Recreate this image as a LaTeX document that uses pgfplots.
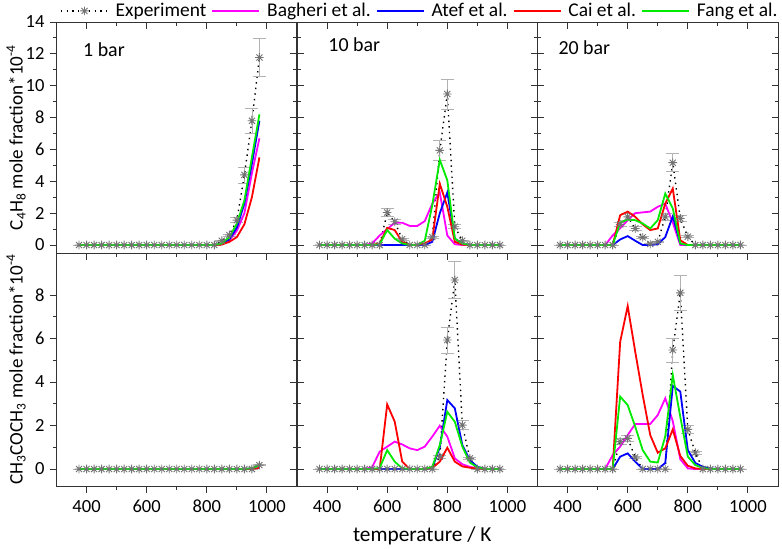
\documentclass[border=0pt]{standalone}
\usepackage{fontspec}
\setmainfont{Carlito}
\usepackage{pgfplots}
\usepackage{pgfplotstable}
\pgfplotsset{compat=1.18}

\pgfdeclareplotmark{ast8}{%
  \pgfpathmoveto{\pgfqpoint{-\pgfplotmarksize}{0pt}}\pgfpathlineto{\pgfqpoint{\pgfplotmarksize}{0pt}}%
  \pgfpathmoveto{\pgfqpoint{0pt}{-\pgfplotmarksize}}\pgfpathlineto{\pgfqpoint{0pt}{\pgfplotmarksize}}%
  \pgfpathmoveto{\pgfqpoint{-.707\pgfplotmarksize}{-.707\pgfplotmarksize}}\pgfpathlineto{\pgfqpoint{.707\pgfplotmarksize}{.707\pgfplotmarksize}}%
  \pgfpathmoveto{\pgfqpoint{-.707\pgfplotmarksize}{.707\pgfplotmarksize}}\pgfpathlineto{\pgfqpoint{.707\pgfplotmarksize}{-.707\pgfplotmarksize}}%
  \pgfusepathqstroke}

% columns: T  exp  err  Bagheri  Atef  Cai  Fang
\pgfplotstableread{
T exp err bag ate cai fan
375 0 0 0 0 0 0
400 0 0 0 0 0 0
425 0 0 0 0 0 0
450 0 0 0 0 0 0
475 0 0 0 0 0 0
500 0 0 0 0 0 0
525 0 0 0 0 0 0
550 0 0 0 0 0 0
575 0 0 0 0 0 0
600 0 0 0 0 0 0
625 0 0 0 0 0 0
650 0 0 0 0 0 0
675 0 0 0 0 0 0
700 0 0 0 0 0 0
725 0 0 0 0 0 0
750 0 0 0 0 0 0
775 0 0 0 0 0 0
800 0 0 0 0 0 0
825 0 0 0 0 0 0
850 0.27 0.03 0.05 0.08 0.03 0.10
875 0.63 0.06 0.30 0.35 0.20 0.50
900 1.56 0.16 0.90 1.10 0.50 1.35
925 4.40 0.50 2.00 2.60 1.30 2.80
950 7.80 0.80 4.50 5.10 3.00 5.50
975 11.77 1.20 6.70 7.80 5.50 8.20
}\tA

\pgfplotstableread{
T exp err bag ate cai fan
375 0 0 0 0 0 0
400 0 0 0 0 0 0
425 0 0 0 0 0 0
450 0 0 0 0 0 0
475 0 0 0 0 0 0
500 0 0 0 0 0 0
525 0 0 0 0 0 0
550 0 0 0.10 0 0 0
575 0 0 0.60 0 0.10 0.05
600 2.04 0.25 1.00 0 1.08 0.94
625 1.46 0.15 1.40 0 0.94 0.40
650 0.37 0.05 1.40 0 0.20 0.10
675 0 0 1.20 0 0 0
700 0 0 1.20 0 0.02 0
725 0 0 1.50 0 0.10 0.27
750 0.50 0.05 2.60 0.20 0.35 2.50
775 5.94 0.65 3.30 2.00 3.85 5.35
800 9.48 0.95 0.60 3.30 2.40 4.06
825 1.15 0.12 0.05 0.40 0.20 0.40
850 0.27 0.03 0 0.10 0.03 0.10
875 0 0 0 0 0 0
900 0 0 0 0 0 0
925 0 0 0 0 0 0
950 0 0 0 0 0 0
975 0 0 0 0 0 0
}\tB

\pgfplotstableread{
T exp err bag ate cai fan
375 0 0 0 0 0 0
400 0 0 0 0 0 0
425 0 0 0 0 0 0
450 0 0 0 0 0 0
475 0 0 0 0 0 0
500 0 0 0 0 0 0
525 0 0 0 0 0 0
550 0 0 0.60 0 0 0
575 1.30 0.15 1.05 0.35 1.87 1.40
600 1.77 0.20 1.56 0.56 2.10 1.60
625 1.04 0.12 2.00 0.27 1.77 1.56
650 0.48 0.05 2.05 0 1.30 1.35
675 0.06 0.02 2.10 0 0.94 1.04
700 0.20 0.02 2.40 0.05 1.04 1.56
725 1.77 0.20 2.60 0.50 2.60 3.23
750 5.17 0.57 1.40 1.80 3.54 2.30
775 1.67 0.18 0 0.10 0.30 0.10
800 0.52 0.06 0 0 0 0
825 0 0 0 0 0 0
850 0 0 0 0 0 0
875 0 0 0 0 0 0
900 0 0 0 0 0 0
925 0 0 0 0 0 0
950 0 0 0 0 0 0
975 0 0 0 0 0 0
}\tC

\pgfplotstableread{
T exp err bag ate cai fan
375 0 0 0 0 0 0
400 0 0 0 0 0 0
425 0 0 0 0 0 0
450 0 0 0 0 0 0
475 0 0 0 0 0 0
500 0 0 0 0 0 0
525 0 0 0 0 0 0
550 0 0 0 0 0 0
575 0 0 0 0 0 0
600 0 0 0 0 0 0
625 0 0 0 0 0 0
650 0 0 0 0 0 0
675 0 0 0 0 0 0
700 0 0 0 0 0 0
725 0 0 0 0 0 0
750 0 0 0 0 0 0
775 0 0 0 0 0 0
800 0 0 0 0 0 0
825 0 0 0 0 0 0
850 0 0 0 0 0 0
875 0 0 0 0 0 0
900 0 0 0 0 0 0
925 0 0 0 0 0 0
950 0 0 0.03 0.03 0.01 0.04
975 0.18 0.02 0.12 0.15 0.05 0.18
}\tD

\pgfplotstableread{
T exp err bag ate cai fan
375 0 0 0 0 0 0
400 0 0 0 0 0 0
425 0 0 0 0 0 0
450 0 0 0 0 0 0
475 0 0 0 0 0 0
500 0 0 0 0 0 0
525 0 0 0 0 0 0
550 0 0 0.08 0 0 0
575 0 0 0.80 0 0 0.05
600 0 0 1.03 0 2.97 0.87
625 0 0 1.26 0 2.18 0.34
650 0 0 1.13 0 0.34 0.03
675 0 0 0.95 0 0 0
700 0 0 0.87 0 0 0
725 0 0 1.03 0 0 0
750 0 0 1.49 0.05 0.05 0.10
775 0.57 0.06 1.99 1.00 0.34 1.10
800 5.93 0.60 1.49 3.17 0.98 2.63
825 8.69 0.86 0.49 2.79 0.34 2.17
850 2.02 0.20 0.22 1.10 0.12 1.03
875 0.49 0.05 0.10 0.41 0.06 0.30
900 0 0 0.03 0.10 0.02 0.08
925 0 0 0 0 0 0
950 0 0 0 0 0 0
975 0 0 0 0 0 0
}\tE

\pgfplotstableread{
T exp err bag ate cai fan
375 0 0 0 0 0 0
400 0 0 0 0 0 0
425 0 0 0 0 0 0
450 0 0 0 0 0 0
475 0 0 0 0 0 0
500 0 0 0 0 0 0
525 0 0 0 0 0 0
550 0 0 0.64 0 0 0
575 1.26 0.13 1.03 0.57 5.85 3.33
600 1.41 0.15 1.56 0.72 7.49 2.94
625 0.54 0.06 2.07 0.34 5.40 1.95
650 0 0 2.07 0 3.40 0.87
675 0 0 2.07 0 1.56 0.34
700 0 0 2.48 0 0.75 0.30
725 0 0 3.25 0.28 0.95 1.50
750 5.47 0.55 2.20 3.82 1.82 4.32
775 8.10 0.80 0.45 3.56 0.60 2.40
800 1.82 0.18 0.03 0.87 0.15 0.57
825 0.75 0.08 0 0.28 0.03 0.18
850 0 0 0 0.10 0 0.05
875 0 0 0 0.03 0 0
900 0 0 0 0 0 0
925 0 0 0 0 0 0
950 0 0 0 0 0 0
975 0 0 0 0 0 0
}\tF

\definecolor{cmag}{RGB}{255,0,255}
\definecolor{cblu}{RGB}{0,0,255}
\definecolor{cred}{RGB}{255,0,0}
\definecolor{cgrn}{RGB}{0,235,0}

\newcommand\fA{\fontsize{18.6}{22}\selectfont}% ticks
\newcommand\fB{\fontsize{19.5}{23}\selectfont}% legend
\newcommand\fC{\fontsize{20}{24}\selectfont}% panel labels
\newcommand\fD{\fontsize{19.2}{23}\selectfont}% y labels
\newcommand\fE{\fontsize{21.4}{25}\selectfont}% x label

\pgfplotsset{
  panel/.style={
    scale only axis, width=240.5bp,
    xmin=300, xmax=1100,
    xtick={400,600,800,1000}, minor x tick num=1,
    minor y tick num=1,
    major tick length=6.5bp, minor tick length=3.5bp,
    axis line style={line width=1bp, black!80},
    every tick/.style={black!80, line width=0.9bp},
    /pgf/number format/assume math mode=true,
    /pgf/number format/1000 sep={},
    tick label style={font=\fA},
    yticklabel style={xshift=1bp},
    xticklabel style={yshift=-1bp},
    every axis y label/.style={at={(axis description cs:-0.168,0.5)}, rotate=90, anchor=center, font=\fD},
  },
  main/.style={tick align=outside, xtick pos=left, ytick pos=left},
  toprow/.style={height=231bp, ymin=-0.5, ymax=14, ytick={0,2,...,14}, xticklabels={}},
  botrow/.style={height=233bp, ymin=-0.78, ymax=9.93, ytick={0,2,4,6,8}},
  nolab/.style={yticklabels={}},
  noyt/.style={ytick=\empty},
  expl/.style={black, line width=1.4bp, dash pattern=on 1.4bp off 4.2bp,
    mark=ast8, mark size=4.3bp, mark options={solid, line width=0.9bp, draw=black!55},
    error bars/.cd, y dir=both, y explicit,
    error bar style={solid, line width=0.7bp, black!30},
    error mark options={rotate=90, mark size=6.5bp, line width=0.7bp, black!30, solid}},
  magl/.style={cmag, line width=1.8bp, no marks},
  blul/.style={cblu, line width=1.8bp, no marks},
  redl/.style={cred, line width=1.8bp, no marks},
  grnl/.style={cgrn, line width=1.8bp, no marks},
}

\newcommand\series[1]{%
  \addplot[forget plot, expl] table[x=T, y=exp, y error=err]{#1};
  \addplot[forget plot, magl] table[x=T, y=bag]{#1};
  \addplot[forget plot, blul] table[x=T, y=ate]{#1};
  \addplot[forget plot, redl] table[x=T, y=cai]{#1};
  \addplot[forget plot, grnl] table[x=T, y=fan]{#1};
}
% overlay axis: inward ticks on top and right (and left for inner panels)
\newcommand\overlay[3]{%
  \begin{axis}[panel, #2, at={#1}, anchor=north west, tick align=inside,
    xtick pos=right, ytick pos=#3, xticklabels={}, yticklabels={},
    axis line style={draw=none}]
  \end{axis}}

\begin{document}
\fontsize{19}{23}\selectfont
\begin{tikzpicture}
\begin{axis}[panel, main, toprow, at={(0bp,0bp)}, anchor=north west,
  ylabel={C\textsubscript{4}H\textsubscript{8} mole fraction*10\textsuperscript{-4}},
  legend style={at={(1.511,1.048)}, anchor=center, draw=none, fill=none,
    legend columns=5, font=\fB, nodes={inner sep=2bp, font=\fB},
    /tikz/every odd column/.append style={column sep=5bp},
    /tikz/every even column/.append style={column sep=3bp}},
  legend image code/.code={\draw[mark repeat=2, mark phase=2, #1] plot coordinates {(0bp,0bp) (23.5bp,0bp) (47bp,0bp)};},
]
\series{\tA}
\addlegendimage{black, line width=1.4bp, dash pattern=on 1.4bp off 4.2bp, mark=ast8, mark size=4.3bp, mark options={solid, line width=0.9bp, draw=black!55}}
\addlegendentry{\fB Experiment}
\addlegendimage{magl}\addlegendentry{\fB Bagheri et al.}
\addlegendimage{blul}\addlegendentry{\fB Atef et al.}
\addlegendimage{redl}\addlegendentry{\fB Cai et al.}
\addlegendimage{grnl}\addlegendentry{\fB Fang et al.}
\node[anchor=west, inner sep=0pt, font=\fC] at (rel axis cs:0.110,0.879) {1 bar};
\end{axis}
\overlay{(0bp,0bp)}{toprow}{right}

\begin{axis}[panel, main, toprow, nolab, noyt, at={(240.5bp,0bp)}, anchor=north west]
\series{\tB}
\node[anchor=west, inner sep=0pt, font=\fC] at (rel axis cs:0.130,0.90) {10 bar};
\end{axis}
\overlay{(240.5bp,0bp)}{toprow}{both}

\begin{axis}[panel, main, toprow, nolab, noyt, at={(481bp,0bp)}, anchor=north west]
\series{\tC}
\node[anchor=west, inner sep=0pt, font=\fC] at (rel axis cs:0.0865,0.889) {20 bar};
\end{axis}
\overlay{(481bp,0bp)}{toprow}{both}

\begin{axis}[panel, main, botrow, at={(0bp,-231bp)}, anchor=north west,
  ylabel={CH\textsubscript{3}COCH\textsubscript{3} mole fraction*10\textsuperscript{-4}}]
\series{\tD}
\end{axis}
\overlay{(0bp,-231bp)}{botrow}{right}

\begin{axis}[panel, main, botrow, nolab, noyt, at={(240.5bp,-231bp)}, anchor=north west,
  xlabel={temperature / K}, xlabel style={font=\fE, yshift=-1bp, xshift=5bp}]
\series{\tE}
\end{axis}
\overlay{(240.5bp,-231bp)}{botrow}{both}

\begin{axis}[panel, main, botrow, nolab, noyt, at={(481bp,-231bp)}, anchor=north west]
\series{\tF}
\end{axis}
\overlay{(481bp,-231bp)}{botrow}{both}

\pgfresetboundingbox
\path (-56.5bp,22bp) rectangle (725.5bp,-527bp);
\end{tikzpicture}
\end{document}
